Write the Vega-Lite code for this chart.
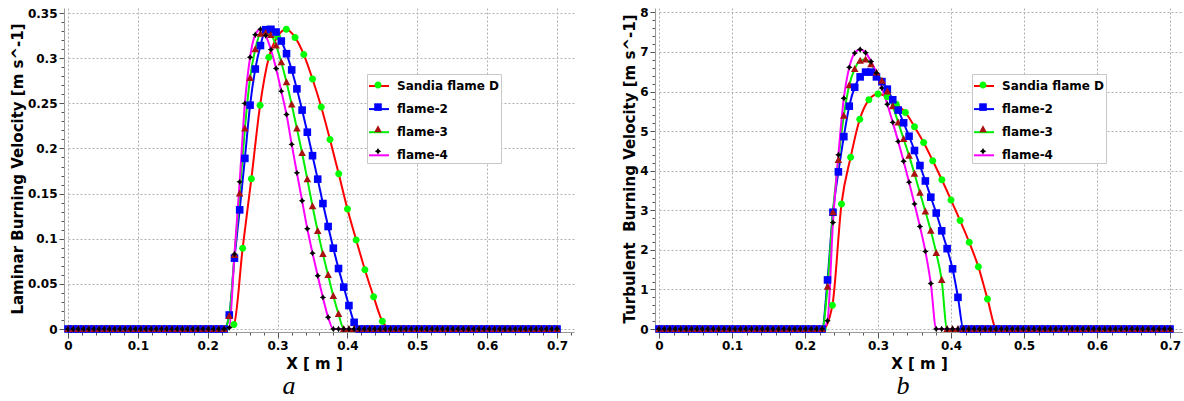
{
"$schema":"https://vega.github.io/schema/vega-lite/v6.json",
"padding":{"left":10,"top":6,"right":0,"bottom":0},
"spacing":48,
"datasets":{
"lam":[
{"x":0,"Sandia flame D":0},{"x":0.0125,"Sandia flame D":0},{"x":0.025,"Sandia flame D":0},{"x":0.0375,"Sandia flame D":0},{"x":0.05,"Sandia flame D":0},{"x":0.0625,"Sandia flame D":0},{"x":0.075,"Sandia flame D":0},{"x":0.0875,"Sandia flame D":0},{"x":0.1,"Sandia flame D":0},{"x":0.1125,"Sandia flame D":0},{"x":0.125,"Sandia flame D":0},{"x":0.1375,"Sandia flame D":0},{"x":0.15,"Sandia flame D":0},{"x":0.1625,"Sandia flame D":0},{"x":0.175,"Sandia flame D":0},{"x":0.1875,"Sandia flame D":0},{"x":0.2,"Sandia flame D":0},{"x":0.2125,"Sandia flame D":0},{"x":0.225,"Sandia flame D":0},
{"x":0.2375,"Sandia flame D":0.005},{"x":0.25,"Sandia flame D":0.0895},{"x":0.2625,"Sandia flame D":0.1665},{"x":0.275,"Sandia flame D":0.248},{"x":0.2875,"Sandia flame D":0.301},{"x":0.3,"Sandia flame D":0.324},{"x":0.3125,"Sandia flame D":0.332},{"x":0.325,"Sandia flame D":0.323},{"x":0.3375,"Sandia flame D":0.304},{"x":0.35,"Sandia flame D":0.277},{"x":0.3625,"Sandia flame D":0.246},{"x":0.375,"Sandia flame D":0.21},{"x":0.3875,"Sandia flame D":0.172},{"x":0.4,"Sandia flame D":0.133},{"x":0.4125,"Sandia flame D":0.0987},{"x":0.425,"Sandia flame D":0.0656},{"x":0.4375,"Sandia flame D":0.0357},{"x":0.45,"Sandia flame D":0.0085},
{"x":0.4625,"Sandia flame D":0},{"x":0.475,"Sandia flame D":0},{"x":0.4875,"Sandia flame D":0},{"x":0.5,"Sandia flame D":0},{"x":0.5125,"Sandia flame D":0},{"x":0.525,"Sandia flame D":0},{"x":0.5375,"Sandia flame D":0},{"x":0.55,"Sandia flame D":0},{"x":0.5625,"Sandia flame D":0},{"x":0.575,"Sandia flame D":0},{"x":0.5875,"Sandia flame D":0},{"x":0.6,"Sandia flame D":0},{"x":0.6125,"Sandia flame D":0},{"x":0.625,"Sandia flame D":0},{"x":0.6375,"Sandia flame D":0},{"x":0.65,"Sandia flame D":0},{"x":0.6625,"Sandia flame D":0},{"x":0.675,"Sandia flame D":0},{"x":0.6875,"Sandia flame D":0},{"x":0.7,"Sandia flame D":0},
{"x":0,"flame-2":0,"flame-3":0,"flame-4":0},{"x":0.00745,"flame-2":0,"flame-3":0,"flame-4":0},{"x":0.01489,"flame-2":0,"flame-3":0,"flame-4":0},{"x":0.02234,"flame-2":0,"flame-3":0,"flame-4":0},{"x":0.02979,"flame-2":0,"flame-3":0,"flame-4":0},{"x":0.03723,"flame-2":0,"flame-3":0,"flame-4":0},{"x":0.04468,"flame-2":0,"flame-3":0,"flame-4":0},{"x":0.05213,"flame-2":0,"flame-3":0,"flame-4":0},{"x":0.05957,"flame-2":0,"flame-3":0,"flame-4":0},{"x":0.06702,"flame-2":0,"flame-3":0,"flame-4":0},{"x":0.07447,"flame-2":0,"flame-3":0,"flame-4":0},{"x":0.08191,"flame-2":0,"flame-3":0,"flame-4":0},{"x":0.08936,"flame-2":0,"flame-3":0,"flame-4":0},{"x":0.09681,"flame-2":0,"flame-3":0,"flame-4":0},{"x":0.10426,"flame-2":0,"flame-3":0,"flame-4":0},{"x":0.1117,"flame-2":0,"flame-3":0,"flame-4":0},{"x":0.11915,"flame-2":0,"flame-3":0,"flame-4":0},{"x":0.1266,"flame-2":0,"flame-3":0,"flame-4":0},{"x":0.13404,"flame-2":0,"flame-3":0,"flame-4":0},{"x":0.14149,"flame-2":0,"flame-3":0,"flame-4":0},{"x":0.14894,"flame-2":0,"flame-3":0,"flame-4":0},{"x":0.15638,"flame-2":0,"flame-3":0,"flame-4":0},{"x":0.16383,"flame-2":0,"flame-3":0,"flame-4":0},{"x":0.17128,"flame-2":0,"flame-3":0,"flame-4":0},{"x":0.17872,"flame-2":0,"flame-3":0,"flame-4":0},{"x":0.18617,"flame-2":0,"flame-3":0,"flame-4":0},{"x":0.19362,"flame-2":0,"flame-3":0,"flame-4":0},{"x":0.20106,"flame-2":0,"flame-3":0,"flame-4":0},{"x":0.20851,"flame-2":0,"flame-3":0,"flame-4":0},{"x":0.21596,"flame-2":0,"flame-3":0,"flame-4":0},{"x":0.2234,"flame-2":0,"flame-3":0,"flame-4":0},
{"x":0.23085,"flame-2":0.0155,"flame-3":0.0144,"flame-4":0.0015},
{"x":0.2383,"flame-2":0.0785,"flame-3":0.082,"flame-4":0.083},
{"x":0.24574,"flame-2":0.132,"flame-3":0.15,"flame-4":0.163},
{"x":0.25319,"flame-2":0.189,"flame-3":0.222,"flame-4":0.25},
{"x":0.26064,"flame-2":0.248,"flame-3":0.278,"flame-4":0.301},
{"x":0.26809,"flame-2":0.288,"flame-3":0.31,"flame-4":0.326},
{"x":0.27553,"flame-2":0.314,"flame-3":0.327,"flame-4":0.332},
{"x":0.28298,"flame-2":0.3316,"flame-3":0.328,"flame-4":0.325},
{"x":0.29043,"flame-2":0.332,"flame-3":0.3257,"flame-4":0.3095},
{"x":0.29787,"flame-2":0.329,"flame-3":0.314,"flame-4":0.2885},
{"x":0.30532,"flame-2":0.319,"flame-3":0.2955,"flame-4":0.2635},
{"x":0.31277,"flame-2":0.305,"flame-3":0.2734,"flame-4":0.2377},
{"x":0.32021,"flame-2":0.287,"flame-3":0.2487,"flame-4":0.2045},
{"x":0.32766,"flame-2":0.266,"flame-3":0.222,"flame-4":0.173},
{"x":0.33511,"flame-2":0.2425,"flame-3":0.195,"flame-4":0.142},
{"x":0.34255,"flame-2":0.218,"flame-3":0.166,"flame-4":0.111},
{"x":0.35,"flame-2":0.192,"flame-3":0.136,"flame-4":0.084},
{"x":0.35745,"flame-2":0.166,"flame-3":0.1087,"flame-4":0.059},
{"x":0.36489,"flame-2":0.139,"flame-3":0.083,"flame-4":0.035},
{"x":0.37234,"flame-2":0.1135,"flame-3":0.0597,"flame-4":0.013},
{"x":0.37979,"flame-2":0.0895,"flame-3":0.0365,"flame-4":0},
{"x":0.38723,"flame-2":0.067,"flame-3":0.0166,"flame-4":0},
{"x":0.39468,"flame-2":0.0464,"flame-3":0,"flame-4":0},
{"x":0.40213,"flame-2":0.026,"flame-3":0,"flame-4":0},
{"x":0.40957,"flame-2":0.0074,"flame-3":0,"flame-4":0},
{"x":0.41702,"flame-2":0,"flame-3":0,"flame-4":0},{"x":0.42447,"flame-2":0,"flame-3":0,"flame-4":0},{"x":0.43191,"flame-2":0,"flame-3":0,"flame-4":0},{"x":0.43936,"flame-2":0,"flame-3":0,"flame-4":0},{"x":0.44681,"flame-2":0,"flame-3":0,"flame-4":0},{"x":0.45426,"flame-2":0,"flame-3":0,"flame-4":0},{"x":0.4617,"flame-2":0,"flame-3":0,"flame-4":0},{"x":0.46915,"flame-2":0,"flame-3":0,"flame-4":0},{"x":0.4766,"flame-2":0,"flame-3":0,"flame-4":0},{"x":0.48404,"flame-2":0,"flame-3":0,"flame-4":0},{"x":0.49149,"flame-2":0,"flame-3":0,"flame-4":0},{"x":0.49894,"flame-2":0,"flame-3":0,"flame-4":0},{"x":0.50638,"flame-2":0,"flame-3":0,"flame-4":0},{"x":0.51383,"flame-2":0,"flame-3":0,"flame-4":0},{"x":0.52128,"flame-2":0,"flame-3":0,"flame-4":0},{"x":0.52872,"flame-2":0,"flame-3":0,"flame-4":0},{"x":0.53617,"flame-2":0,"flame-3":0,"flame-4":0},{"x":0.54362,"flame-2":0,"flame-3":0,"flame-4":0},{"x":0.55106,"flame-2":0,"flame-3":0,"flame-4":0},{"x":0.55851,"flame-2":0,"flame-3":0,"flame-4":0},{"x":0.56596,"flame-2":0,"flame-3":0,"flame-4":0},{"x":0.5734,"flame-2":0,"flame-3":0,"flame-4":0},{"x":0.58085,"flame-2":0,"flame-3":0,"flame-4":0},{"x":0.5883,"flame-2":0,"flame-3":0,"flame-4":0},{"x":0.59574,"flame-2":0,"flame-3":0,"flame-4":0},{"x":0.60319,"flame-2":0,"flame-3":0,"flame-4":0},{"x":0.61064,"flame-2":0,"flame-3":0,"flame-4":0},{"x":0.61809,"flame-2":0,"flame-3":0,"flame-4":0},{"x":0.62553,"flame-2":0,"flame-3":0,"flame-4":0},{"x":0.63298,"flame-2":0,"flame-3":0,"flame-4":0},{"x":0.64043,"flame-2":0,"flame-3":0,"flame-4":0},{"x":0.64787,"flame-2":0,"flame-3":0,"flame-4":0},{"x":0.65532,"flame-2":0,"flame-3":0,"flame-4":0},{"x":0.66277,"flame-2":0,"flame-3":0,"flame-4":0},{"x":0.67021,"flame-2":0,"flame-3":0,"flame-4":0},{"x":0.67766,"flame-2":0,"flame-3":0,"flame-4":0},{"x":0.68511,"flame-2":0,"flame-3":0,"flame-4":0},{"x":0.69255,"flame-2":0,"flame-3":0,"flame-4":0},{"x":0.7,"flame-2":0,"flame-3":0,"flame-4":0}
],
"turb":[
{"x":0,"Sandia flame D":0},{"x":0.0125,"Sandia flame D":0},{"x":0.025,"Sandia flame D":0},{"x":0.0375,"Sandia flame D":0},{"x":0.05,"Sandia flame D":0},{"x":0.0625,"Sandia flame D":0},{"x":0.075,"Sandia flame D":0},{"x":0.0875,"Sandia flame D":0},{"x":0.1,"Sandia flame D":0},{"x":0.1125,"Sandia flame D":0},{"x":0.125,"Sandia flame D":0},{"x":0.1375,"Sandia flame D":0},{"x":0.15,"Sandia flame D":0},{"x":0.1625,"Sandia flame D":0},{"x":0.175,"Sandia flame D":0},{"x":0.1875,"Sandia flame D":0},{"x":0.2,"Sandia flame D":0},{"x":0.2125,"Sandia flame D":0},{"x":0.225,"Sandia flame D":0},
{"x":0.2375,"Sandia flame D":0.6},{"x":0.25,"Sandia flame D":3.16},{"x":0.2625,"Sandia flame D":4.34},{"x":0.275,"Sandia flame D":5.3},{"x":0.2875,"Sandia flame D":5.79},{"x":0.3,"Sandia flame D":5.94},{"x":0.3125,"Sandia flame D":5.87},{"x":0.325,"Sandia flame D":5.68},{"x":0.3375,"Sandia flame D":5.47},{"x":0.35,"Sandia flame D":5.11},{"x":0.3625,"Sandia flame D":4.71},{"x":0.375,"Sandia flame D":4.25},{"x":0.3875,"Sandia flame D":3.77},{"x":0.4,"Sandia flame D":3.26},{"x":0.4125,"Sandia flame D":2.74},{"x":0.425,"Sandia flame D":2.19},{"x":0.4375,"Sandia flame D":1.57},{"x":0.45,"Sandia flame D":0.76},
{"x":0.4625,"Sandia flame D":0},{"x":0.475,"Sandia flame D":0},{"x":0.4875,"Sandia flame D":0},{"x":0.5,"Sandia flame D":0},{"x":0.5125,"Sandia flame D":0},{"x":0.525,"Sandia flame D":0},{"x":0.5375,"Sandia flame D":0},{"x":0.55,"Sandia flame D":0},{"x":0.5625,"Sandia flame D":0},{"x":0.575,"Sandia flame D":0},{"x":0.5875,"Sandia flame D":0},{"x":0.6,"Sandia flame D":0},{"x":0.6125,"Sandia flame D":0},{"x":0.625,"Sandia flame D":0},{"x":0.6375,"Sandia flame D":0},{"x":0.65,"Sandia flame D":0},{"x":0.6625,"Sandia flame D":0},{"x":0.675,"Sandia flame D":0},{"x":0.6875,"Sandia flame D":0},{"x":0.7,"Sandia flame D":0},
{"x":0,"flame-2":0,"flame-3":0,"flame-4":0},{"x":0.00745,"flame-2":0,"flame-3":0,"flame-4":0},{"x":0.01489,"flame-2":0,"flame-3":0,"flame-4":0},{"x":0.02234,"flame-2":0,"flame-3":0,"flame-4":0},{"x":0.02979,"flame-2":0,"flame-3":0,"flame-4":0},{"x":0.03723,"flame-2":0,"flame-3":0,"flame-4":0},{"x":0.04468,"flame-2":0,"flame-3":0,"flame-4":0},{"x":0.05213,"flame-2":0,"flame-3":0,"flame-4":0},{"x":0.05957,"flame-2":0,"flame-3":0,"flame-4":0},{"x":0.06702,"flame-2":0,"flame-3":0,"flame-4":0},{"x":0.07447,"flame-2":0,"flame-3":0,"flame-4":0},{"x":0.08191,"flame-2":0,"flame-3":0,"flame-4":0},{"x":0.08936,"flame-2":0,"flame-3":0,"flame-4":0},{"x":0.09681,"flame-2":0,"flame-3":0,"flame-4":0},{"x":0.10426,"flame-2":0,"flame-3":0,"flame-4":0},{"x":0.1117,"flame-2":0,"flame-3":0,"flame-4":0},{"x":0.11915,"flame-2":0,"flame-3":0,"flame-4":0},{"x":0.1266,"flame-2":0,"flame-3":0,"flame-4":0},{"x":0.13404,"flame-2":0,"flame-3":0,"flame-4":0},{"x":0.14149,"flame-2":0,"flame-3":0,"flame-4":0},{"x":0.14894,"flame-2":0,"flame-3":0,"flame-4":0},{"x":0.15638,"flame-2":0,"flame-3":0,"flame-4":0},{"x":0.16383,"flame-2":0,"flame-3":0,"flame-4":0},{"x":0.17128,"flame-2":0,"flame-3":0,"flame-4":0},{"x":0.17872,"flame-2":0,"flame-3":0,"flame-4":0},{"x":0.18617,"flame-2":0,"flame-3":0,"flame-4":0},{"x":0.19362,"flame-2":0,"flame-3":0,"flame-4":0},{"x":0.20106,"flame-2":0,"flame-3":0,"flame-4":0},{"x":0.20851,"flame-2":0,"flame-3":0,"flame-4":0},{"x":0.21596,"flame-2":0,"flame-3":0,"flame-4":0},{"x":0.2234,"flame-2":0,"flame-3":0,"flame-4":0},
{"x":0.23085,"flame-2":1.24,"flame-3":1.07,"flame-4":0.21},
{"x":0.2383,"flame-2":2.95,"flame-3":2.95,"flame-4":2.69},
{"x":0.24574,"flame-2":3.97,"flame-3":4.27,"flame-4":4.4},
{"x":0.25319,"flame-2":4.86,"flame-3":5.39,"flame-4":5.83},
{"x":0.26064,"flame-2":5.63,"flame-3":6.16,"flame-4":6.61},
{"x":0.26809,"flame-2":6.11,"flame-3":6.57,"flame-4":6.97},
{"x":0.27553,"flame-2":6.37,"flame-3":6.78,"flame-4":7.06},
{"x":0.28298,"flame-2":6.49,"flame-3":6.81,"flame-4":6.98},
{"x":0.29043,"flame-2":6.49,"flame-3":6.69,"flame-4":6.76},
{"x":0.29787,"flame-2":6.37,"flame-3":6.48,"flame-4":6.47},
{"x":0.30532,"flame-2":6.25,"flame-3":6.27,"flame-4":6.09},
{"x":0.31277,"flame-2":6.06,"flame-3":6.0,"flame-4":5.68},
{"x":0.32021,"flame-2":5.79,"flame-3":5.63,"flame-4":5.22},
{"x":0.32766,"flame-2":5.53,"flame-3":5.22,"flame-4":4.74},
{"x":0.33511,"flame-2":5.21,"flame-3":4.8,"flame-4":4.24},
{"x":0.34255,"flame-2":4.87,"flame-3":4.38,"flame-4":3.71},
{"x":0.35,"flame-2":4.51,"flame-3":3.92,"flame-4":3.16},
{"x":0.35745,"flame-2":4.13,"flame-3":3.44,"flame-4":2.59},
{"x":0.36489,"flame-2":3.74,"flame-3":2.97,"flame-4":1.96},
{"x":0.37234,"flame-2":3.33,"flame-3":2.48,"flame-4":1.15},
{"x":0.37979,"flame-2":2.93,"flame-3":1.92,"flame-4":0},
{"x":0.38723,"flame-2":2.48,"flame-3":1.24,"flame-4":0},
{"x":0.39468,"flame-2":2.03,"flame-3":0,"flame-4":0},
{"x":0.40213,"flame-2":1.52,"flame-3":0,"flame-4":0},
{"x":0.40957,"flame-2":0.8,"flame-3":0,"flame-4":0},
{"x":0.41702,"flame-2":0,"flame-3":0,"flame-4":0},{"x":0.42447,"flame-2":0,"flame-3":0,"flame-4":0},{"x":0.43191,"flame-2":0,"flame-3":0,"flame-4":0},{"x":0.43936,"flame-2":0,"flame-3":0,"flame-4":0},{"x":0.44681,"flame-2":0,"flame-3":0,"flame-4":0},{"x":0.45426,"flame-2":0,"flame-3":0,"flame-4":0},{"x":0.4617,"flame-2":0,"flame-3":0,"flame-4":0},{"x":0.46915,"flame-2":0,"flame-3":0,"flame-4":0},{"x":0.4766,"flame-2":0,"flame-3":0,"flame-4":0},{"x":0.48404,"flame-2":0,"flame-3":0,"flame-4":0},{"x":0.49149,"flame-2":0,"flame-3":0,"flame-4":0},{"x":0.49894,"flame-2":0,"flame-3":0,"flame-4":0},{"x":0.50638,"flame-2":0,"flame-3":0,"flame-4":0},{"x":0.51383,"flame-2":0,"flame-3":0,"flame-4":0},{"x":0.52128,"flame-2":0,"flame-3":0,"flame-4":0},{"x":0.52872,"flame-2":0,"flame-3":0,"flame-4":0},{"x":0.53617,"flame-2":0,"flame-3":0,"flame-4":0},{"x":0.54362,"flame-2":0,"flame-3":0,"flame-4":0},{"x":0.55106,"flame-2":0,"flame-3":0,"flame-4":0},{"x":0.55851,"flame-2":0,"flame-3":0,"flame-4":0},{"x":0.56596,"flame-2":0,"flame-3":0,"flame-4":0},{"x":0.5734,"flame-2":0,"flame-3":0,"flame-4":0},{"x":0.58085,"flame-2":0,"flame-3":0,"flame-4":0},{"x":0.5883,"flame-2":0,"flame-3":0,"flame-4":0},{"x":0.59574,"flame-2":0,"flame-3":0,"flame-4":0},{"x":0.60319,"flame-2":0,"flame-3":0,"flame-4":0},{"x":0.61064,"flame-2":0,"flame-3":0,"flame-4":0},{"x":0.61809,"flame-2":0,"flame-3":0,"flame-4":0},{"x":0.62553,"flame-2":0,"flame-3":0,"flame-4":0},{"x":0.63298,"flame-2":0,"flame-3":0,"flame-4":0},{"x":0.64043,"flame-2":0,"flame-3":0,"flame-4":0},{"x":0.64787,"flame-2":0,"flame-3":0,"flame-4":0},{"x":0.65532,"flame-2":0,"flame-3":0,"flame-4":0},{"x":0.66277,"flame-2":0,"flame-3":0,"flame-4":0},{"x":0.67021,"flame-2":0,"flame-3":0,"flame-4":0},{"x":0.67766,"flame-2":0,"flame-3":0,"flame-4":0},{"x":0.68511,"flame-2":0,"flame-3":0,"flame-4":0},{"x":0.69255,"flame-2":0,"flame-3":0,"flame-4":0},{"x":0.7,"flame-2":0,"flame-3":0,"flame-4":0}
]
},
"hconcat":[
{
"width":506,"height":321,
"data":{"name":"lam"},
"title":{"text":"a","orient":"bottom","frame":"group","anchor":"middle","dx":-32,"offset":2,"font":"Liberation Serif","fontStyle":"italic","fontWeight":"normal","fontSize":26,"color":"#000"},
"transform":[{"fold":["Sandia flame D","flame-2","flame-3","flame-4"],"as":["series","y"]},{"filter":"isValid(datum.y)"}],
"encoding":{
"x":{"field":"x","type":"quantitative","scale":{"domain":[0,0.7243],"nice":false,"zero":false},
"axis":{"title":"X [ m ]","titleX":246,"titlePadding":5,"offset":3,"labelPadding":2,
"values":[0,0.02,0.04,0.06,0.08,0.1,0.12,0.14,0.16,0.18,0.2,0.22,0.24,0.26,0.28,0.3,0.32,0.34,0.36,0.38,0.4,0.42,0.44,0.46,0.48,0.5,0.52,0.54,0.56,0.58,0.6,0.62,0.64,0.66,0.68,0.7,0.72],
"labelExpr":"abs(datum.value*10-round(datum.value*10))<1e-6 ? toString(round(datum.value*10)/10) : ''",
"tickSize":{"condition":{"test":"abs(datum.value*10-round(datum.value*10))<1e-6","value":6},"value":3},
"gridOpacity":{"condition":{"test":"abs(datum.value*10-round(datum.value*10))<1e-6","value":1},"value":0}}},
"y":{"field":"y","type":"quantitative","scale":{"domain":[0,0.3556],"nice":false},
"axis":{"title":"Laminar Burning Velocity [m s^-1]","titlePadding":2,"offset":4,"labelPadding":2,
"values":[0,0.01,0.02,0.03,0.04,0.05,0.06,0.07,0.08,0.09,0.1,0.11,0.12,0.13,0.14,0.15,0.16,0.17,0.18,0.19,0.2,0.21,0.22,0.23,0.24,0.25,0.26,0.27,0.28,0.29,0.3,0.31,0.32,0.33,0.34,0.35],
"labelExpr":"abs(datum.value*20-round(datum.value*20))<1e-6 ? toString(round(datum.value*100)/100) : ''",
"tickSize":{"condition":{"test":"abs(datum.value*20-round(datum.value*20))<1e-6","value":5},"value":3},
"gridOpacity":{"condition":{"test":"abs(datum.value*20-round(datum.value*20))<1e-6","value":1},"value":0}}}
},
"layer":[
{"mark":{"type":"line","interpolate":"monotone","strokeWidth":2},
"encoding":{"color":{"field":"series","type":"nominal","scale":{"domain":["Sandia flame D","flame-2","flame-3","flame-4"],"range":["#ff0000","#0000ff","#00ee00","#ff00ff"]},
"legend":{"orient":"none","legendX":299,"legendY":66,"direction":"vertical","title":null,"symbolType":"stroke","symbolSize":400,"symbolStrokeWidth":2,"labelFont":"DejaVu Sans","labelFontWeight":"bold","labelFontSize":12,"labelColor":"#000","labelOffset":7,"rowPadding":6.1,"padding":1,"fillColor":"#ffffff","strokeColor":"#c8c8c8","labelExpr":"datum.label + '\u00a0\u00a0\u00a0\u00a0'"}}}},
{"mark":{"type":"point","filled":true,"size":400,"opacity":1,"strokeWidth":0},
"encoding":{
"fill":{"field":"series","type":"nominal","scale":{"range":["#00ff00","#0000ff","#aa1111","#000000"]},
"legend":{"orient":"none","legendX":299,"legendY":66,"direction":"vertical","title":null,"symbolSize":400,"symbolStrokeWidth":0,"symbolOpacity":1,"labelFontSize":12,"labelOffset":7,"rowPadding":6.1,"padding":1,"labelExpr":"''"}},
"shape":{"field":"series","type":"nominal","scale":{"range":["M0.35,0A0.35,0.35,0,1,1,-0.35,0A0.35,0.35,0,1,1,0.35,0Z","M-0.38,-0.38H0.38V0.38H-0.38Z","M0,-0.4L0.38,0.3H-0.38Z","M0,-0.32L0.12,-0.12L0.32,0L0.12,0.12L0,0.32L-0.12,0.12L-0.32,0L-0.12,-0.12Z"]},
"legend":{"orient":"none","legendX":299,"legendY":66,"direction":"vertical","title":null,"symbolSize":400,"symbolStrokeWidth":0,"symbolOpacity":1,"labelFontSize":12,"labelOffset":7,"rowPadding":6.1,"padding":1,"labelExpr":"''"}}}}
]
},
{
"width":524,"height":321,
"data":{"name":"turb"},
"title":{"text":"b","orient":"bottom","frame":"group","anchor":"middle","dx":-18,"offset":2,"font":"Liberation Serif","fontStyle":"italic","fontWeight":"normal","fontSize":26,"color":"#000"},
"transform":[{"fold":["Sandia flame D","flame-2","flame-3","flame-4"],"as":["series","y"]},{"filter":"isValid(datum.y)"}],
"encoding":{
"x":{"field":"x","type":"quantitative","scale":{"domain":[0,0.7178],"nice":false,"zero":false},
"axis":{"title":"X [ m ]","titleX":260,"titlePadding":5,"offset":3,"labelPadding":2,
"values":[0,0.02,0.04,0.06,0.08,0.1,0.12,0.14,0.16,0.18,0.2,0.22,0.24,0.26,0.28,0.3,0.32,0.34,0.36,0.38,0.4,0.42,0.44,0.46,0.48,0.5,0.52,0.54,0.56,0.58,0.6,0.62,0.64,0.66,0.68,0.7],
"labelExpr":"abs(datum.value*10-round(datum.value*10))<1e-6 ? toString(round(datum.value*10)/10) : ''",
"tickSize":{"condition":{"test":"abs(datum.value*10-round(datum.value*10))<1e-6","value":6},"value":3},
"gridOpacity":{"condition":{"test":"abs(datum.value*10-round(datum.value*10))<1e-6","value":1},"value":0}}},
"y":{"field":"y","type":"quantitative","scale":{"domain":[0,8.11],"nice":false},
"axis":{"title":"Turbulent\u00a0 Burning Velocity [m s^-1]","titlePadding":2,"offset":4,"labelPadding":2,
"values":[0,0.2,0.4,0.6,0.8,1,1.2,1.4,1.6,1.8,2,2.2,2.4,2.6,2.8,3,3.2,3.4,3.6,3.8,4,4.2,4.4,4.6,4.8,5,5.2,5.4,5.6,5.8,6,6.2,6.4,6.6,6.8,7,7.2,7.4,7.6,7.8,8],
"labelExpr":"abs(datum.value-round(datum.value))<1e-6 ? toString(round(datum.value)) : ''",
"tickSize":{"condition":{"test":"abs(datum.value-round(datum.value))<1e-6","value":5},"value":3},
"gridOpacity":{"condition":{"test":"abs(datum.value-round(datum.value))<1e-6","value":1},"value":0}}}
},
"layer":[
{"mark":{"type":"line","interpolate":"monotone","strokeWidth":2},
"encoding":{"color":{"field":"series","type":"nominal","scale":{"domain":["Sandia flame D","flame-2","flame-3","flame-4"],"range":["#ff0000","#0000ff","#00ee00","#ff00ff"]},
"legend":{"orient":"none","legendX":313,"legendY":66,"direction":"vertical","title":null,"symbolType":"stroke","symbolSize":400,"symbolStrokeWidth":2,"labelFont":"DejaVu Sans","labelFontWeight":"bold","labelFontSize":12,"labelColor":"#000","labelOffset":7,"rowPadding":6.1,"padding":1,"fillColor":"#ffffff","strokeColor":"#c8c8c8","labelExpr":"datum.label + '\u00a0\u00a0\u00a0\u00a0'"}}}},
{"mark":{"type":"point","filled":true,"size":400,"opacity":1,"strokeWidth":0},
"encoding":{
"fill":{"field":"series","type":"nominal","scale":{"range":["#00ff00","#0000ff","#aa1111","#000000"]},
"legend":{"orient":"none","legendX":313,"legendY":66,"direction":"vertical","title":null,"symbolSize":400,"symbolStrokeWidth":0,"symbolOpacity":1,"labelFontSize":12,"labelOffset":7,"rowPadding":6.1,"padding":1,"labelExpr":"''"}},
"shape":{"field":"series","type":"nominal","scale":{"range":["M0.35,0A0.35,0.35,0,1,1,-0.35,0A0.35,0.35,0,1,1,0.35,0Z","M-0.38,-0.38H0.38V0.38H-0.38Z","M0,-0.4L0.38,0.3H-0.38Z","M0,-0.32L0.12,-0.12L0.32,0L0.12,0.12L0,0.32L-0.12,0.12L-0.32,0L-0.12,-0.12Z"]},
"legend":{"orient":"none","legendX":313,"legendY":66,"direction":"vertical","title":null,"symbolSize":400,"symbolStrokeWidth":0,"symbolOpacity":1,"labelFontSize":12,"labelOffset":7,"rowPadding":6.1,"padding":1,"labelExpr":"''"}}}}
]
}
],
"resolve":{"scale":{"x":"independent","y":"independent","color":"independent","fill":"independent","shape":"independent"},"axis":{"x":"independent","y":"independent"},"legend":{"color":"independent","fill":"independent","shape":"independent"}},
"config":{
"view":{"stroke":null},
"font":"DejaVu Sans",
"axis":{"labelFont":"DejaVu Sans","labelFontWeight":"bold","labelFontSize":12,"labelColor":"#000","titleFont":"DejaVu Sans","titleFontWeight":"bold","titleFontSize":15,"titleColor":"#000","domainColor":"#999","tickColor":"#555","gridColor":"#b0b0b0","gridDash":[2,2],"labelOverlap":false,"labelFlush":false,"labelBound":false}
}
}
